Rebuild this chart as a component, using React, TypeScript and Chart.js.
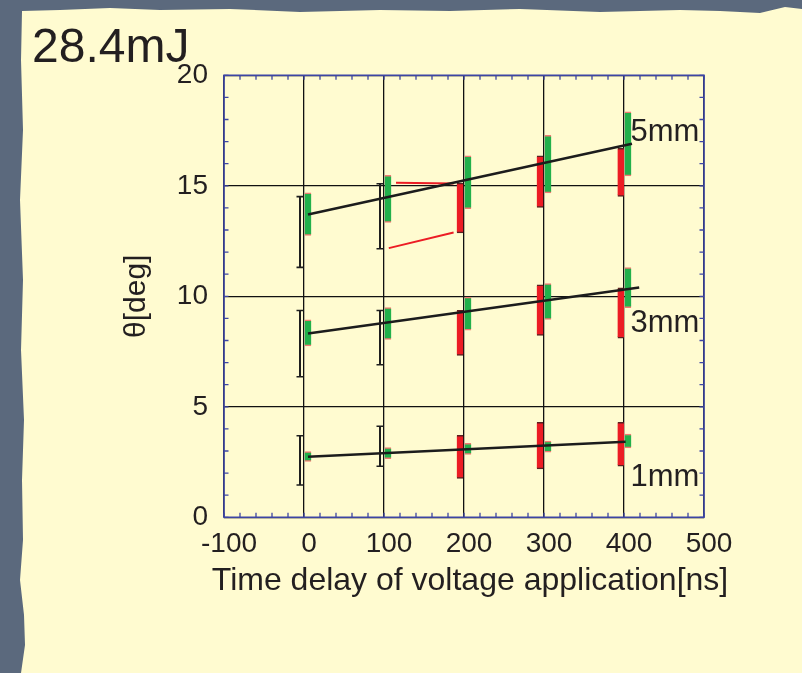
import React, { useEffect, useRef } from 'react';
import { Chart, registerables } from 'chart.js';

Chart.register(...registerables);

// ---------- data ----------
const chartTitle = '28.4mJ';
const xTitle = 'Time delay of voltage application[ns]';
const yTitle = 'θ[deg]';

// horizontal positions (ns) of the error bars (plotted slightly offset around each delay)
const blackX = [-5, 95];
const redX = [195, 295, 396];
const greenX = [5, 105, 205, 305, 405];

// 5mm
const black5Lo = [11.31, 12.15];
const black5Hi = [14.51, 15.09];
const red5Lo = [12.87, 14.02, 14.52];
const red5Hi = [15.12, 16.36, 16.7];
const green5Lo = [12.75, 13.34, 13.96, 14.68, 15.45];
const green5Hi = [14.68, 15.47, 16.36, 17.28, 18.35];
const fit5X = [5, 410];
const fit5Y = [13.7, 16.9];

// 3mm
const black3Lo = [6.36, 6.9];
const black3Hi = [9.36, 9.36];
const red3Lo = [7.32, 8.23, 8.11];
const red3Hi = [9.36, 10.52, 10.38];
const green3Lo = [7.75, 8.05, 8.47, 8.95, 9.49];
const green3Hi = [8.94, 9.49, 9.96, 10.58, 11.3];
const fit3X = [5, 419];
const fit3Y = [8.32, 10.4];

// 1mm
const black1Lo = [1.46, 2.31];
const black1Hi = [3.69, 4.12];
const red1Lo = [1.76, 2.19, 2.31];
const red1Hi = [3.71, 4.3, 4.3];
const green1Lo = [2.53, 2.65, 2.85, 2.95, 3.14];
const green1Hi = [2.97, 3.15, 3.35, 3.45, 3.77];
const fit1X = [5, 402];
const fit1Y = [2.74, 3.42];

// stray red segments near 100-200 ns (5mm)
const strayAX = [115, 187];
const strayAY = [15.14, 15.1];
const strayBX = [106, 187];
const strayBY = [12.18, 12.89];

// group labels
const groupLabels = ['5mm', '3mm', '1mm'];
const labelX = [408, 408, 408];
const labelY = [17.43, 8.75, 1.8];

// axis ranges
const xMin = -100;
const xMax = 500;
const xStep = 100;
const xMinor = 20;
const yMin = 0;
const yMax = 20;
const yStep = 5;
const yMinor = 1;

// ---------- styles ----------
const FONT = "'Liberation Sans', Arial, Helvetica, sans-serif";
const TEXT = '#231f20';
const FRAME = '#3d45a3';
const GREEN = '#22b04b';
const RED = '#ec1c24';
const GREEN_CAP = '#f07a72';
const RED_CAP = '#5c2020';
const PAPER = '#fffbd0';
const SLATE = '#5b697d';

const groupsBlack = [
  { lo: black5Lo, hi: black5Hi },
  { lo: black3Lo, hi: black3Hi },
  { lo: black1Lo, hi: black1Hi },
];

const pair = (xs: number[], lo: number[], hi: number[]) => xs.map((x, i) => ({ x, y: [lo[i], hi[i]] }));
const pts = (xs: number[], ys: number[]) => xs.map((x, i) => ({ x, y: ys[i] }));

const decorPlugin = {
  id: 'decor',
  beforeDatasetsDraw(chart: any) {
    const { ctx, scales } = chart;
    const xs = scales.x;
    const ys = scales.y;
    ctx.save();
    ctx.strokeStyle = '#1e1e1e';
    groupsBlack.forEach((g) => {
      blackX.forEach((xv, i) => {
        const px = xs.getPixelForValue(xv);
        const pTop = ys.getPixelForValue(g.hi[i]);
        const pBot = ys.getPixelForValue(g.lo[i]);
        ctx.lineWidth = 2;
        ctx.beginPath();
        ctx.moveTo(px, pTop);
        ctx.lineTo(px, pBot);
        ctx.stroke();
        ctx.lineWidth = 1.6;
        ctx.beginPath();
        ctx.moveTo(px - 3.5, pTop);
        ctx.lineTo(px + 3.5, pTop);
        ctx.moveTo(px - 3.5, pBot);
        ctx.lineTo(px + 3.5, pBot);
        ctx.stroke();
      });
    });
    ctx.restore();
  },
  afterDraw(chart: any) {
    const { ctx, chartArea: a, scales } = chart;
    const xs = scales.x;
    const ys = scales.y;
    ctx.save();
    // minor ticks (inward on all four sides)
    ctx.strokeStyle = FRAME;
    ctx.lineWidth = 1.3;
    ctx.beginPath();
    for (let v = xMin; v <= xMax + 1e-9; v += xMinor) {
      const px = xs.getPixelForValue(v);
      ctx.moveTo(px, a.top);
      ctx.lineTo(px, a.top + 4.5);
      ctx.moveTo(px, a.bottom);
      ctx.lineTo(px, a.bottom - 4.5);
    }
    for (let v = yMin; v <= yMax + 1e-9; v += yMinor) {
      const py = ys.getPixelForValue(v);
      ctx.moveTo(a.left, py);
      ctx.lineTo(a.left + 4.5, py);
      ctx.moveTo(a.right, py);
      ctx.lineTo(a.right - 4.5, py);
    }
    ctx.stroke();
    // frame
    ctx.lineWidth = 1.6;
    ctx.strokeRect(a.left, a.top, a.right - a.left, a.bottom - a.top);
    // group labels
    ctx.fillStyle = TEXT;
    ctx.font = `31px ${FONT}`;
    ctx.textAlign = 'left';
    ctx.textBaseline = 'middle';
    groupLabels.forEach((t, i) => {
      ctx.fillText(t, xs.getPixelForValue(labelX[i]), ys.getPixelForValue(labelY[i]));
    });
    // x axis title (drawn here so it may be wider than the plot area, as in the reference)
    ctx.font = `32px ${FONT}`;
    ctx.textAlign = 'center';
    ctx.fillText(xTitle, (a.left + a.right) / 2 + 6, a.bottom + 64);
    ctx.restore();
  },
};

export default function App() {
  const ref = useRef<HTMLCanvasElement>(null);

  useEffect(() => {
    const canvas = ref.current;
    if (!canvas) return;

    const barCommon = {
      type: 'bar' as const,
      grouped: false,
      barThickness: 6.5,
      borderSkipped: false,
      borderWidth: { top: 1.5, bottom: 1.5, left: 0, right: 0 },
      order: 2,
    };
    const redSet = (lo: number[], hi: number[]) => ({
      ...barCommon,
      data: pair(redX, lo, hi),
      backgroundColor: RED,
      borderColor: RED_CAP,
    });
    const greenSet = (lo: number[], hi: number[]) => ({
      ...barCommon,
      data: pair(greenX, lo, hi),
      backgroundColor: GREEN,
      borderColor: GREEN_CAP,
    });
    const lineSet = (xs: number[], ys: number[], color: string, w: number) => ({
      type: 'line' as const,
      data: pts(xs, ys),
      borderColor: color,
      borderWidth: w,
      pointRadius: 0,
      fill: false,
      tension: 0,
      order: 0,
    });

    const chart = new Chart(canvas, {
      type: 'bar',
      data: {
        datasets: [
          redSet(red5Lo, red5Hi),
          greenSet(green5Lo, green5Hi),
          redSet(red3Lo, red3Hi),
          greenSet(green3Lo, green3Hi),
          redSet(red1Lo, red1Hi),
          greenSet(green1Lo, green1Hi),
          lineSet(fit5X, fit5Y, '#1c1c1c', 2.6),
          lineSet(fit3X, fit3Y, '#1c1c1c', 2.6),
          lineSet(fit1X, fit1Y, '#1c1c1c', 2.6),
          lineSet(strayAX, strayAY, RED, 2),
          lineSet(strayBX, strayBY, RED, 2),
        ] as any,
      },
      options: {
        animation: false,
        responsive: false,
        devicePixelRatio: 1,
        events: [],
        layout: { padding: { left: 32, right: 98, top: 0, bottom: 65.7 } },
        plugins: {
          legend: { display: false },
          tooltip: { enabled: false },
          title: {
            display: true,
            text: chartTitle,
            align: 'start',
            color: TEXT,
            font: { family: FONT, size: 48, lineHeight: 1.0, weight: 'normal' },
            padding: { top: 25, bottom: 2.3 },
          },
        },
        scales: {
          x: {
            type: 'linear',
            min: xMin,
            max: xMax,
            offset: false,
            border: { display: false },
            grid: { color: '#111', lineWidth: 1.3, drawTicks: false, offset: false },
            ticks: {
              stepSize: xStep,
              padding: 10,
              labelOffset: 5,
              maxRotation: 0,
              autoSkip: false,
              color: TEXT,
              font: { family: FONT, size: 28 },
            },
            title: { display: false, text: xTitle },
            afterFit: (s: any) => {
              s.height = 90;
            },
          },
          y: {
            type: 'linear',
            min: yMin,
            max: yMax,
            border: { display: false },
            grid: { color: '#111', lineWidth: 1.3, drawTicks: false },
            ticks: {
              stepSize: yStep,
              padding: 16,
              color: TEXT,
              font: { family: FONT, size: 28 },
            },
            title: {
              display: true,
              text: yTitle,
              color: TEXT,
              font: { family: FONT, size: 30, lineHeight: 1.2 },
              padding: { top: 86.7, bottom: 0 },
            },
            afterFit: (s: any) => {
              s.width = 192;
            },
          },
        },
      } as any,
      plugins: [decorPlugin],
    });

    return () => chart.destroy();
  }, []);

  const paperTop =
    '22px 11px, 60px 10px, 110px 8px, 160px 10px, 230px 9px, 300px 12px, 380px 10px, 450px 11px, 520px 9px, 600px 12px, 680px 10px, 720px 11px, 760px 13px, 785px 7px, 802px 9px';
  const paperLeft =
    '802px 673px, 21px 673px, 25px 645px, 24px 615px, 20px 580px, 23px 540px, 22px 480px, 24px 420px, 21px 350px, 23px 280px, 20px 200px, 23px 130px, 21px 60px';

  return (
    <div
      style={{
        position: 'fixed',
        left: 0,
        top: 0,
        width: 802,
        height: 673,
        background: SLATE,
        overflow: 'hidden',
      }}
    >
      <div
        style={{
          position: 'absolute',
          left: 0,
          top: 0,
          width: 802,
          height: 673,
          background: PAPER,
          clipPath: `polygon(${paperTop}, ${paperLeft})`,
        }}
      />
      <canvas
        ref={ref}
        width={802}
        height={673}
        style={{ position: 'absolute', left: 0, top: 0, width: 802, height: 673 }}
      />
    </div>
  );
}
